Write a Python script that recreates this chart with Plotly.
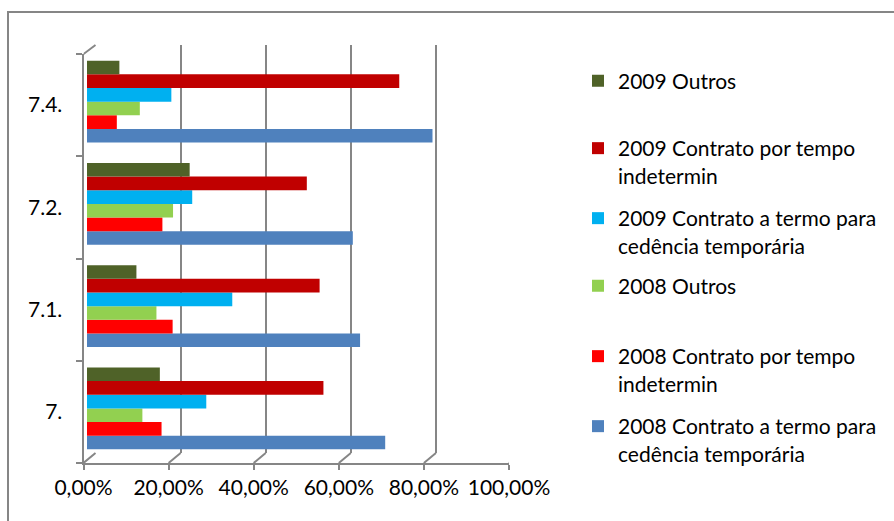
import plotly.graph_objects as go

# Categories (bottom to top) and series values (shares, 0-1)
categories = ["7.", "7.1.", "7.2.", "7.4."]

series_names = [
    "2008 Contrato a termo para<br>cedência temporária",
    "2008 Contrato por tempo<br>indetermin",
    "2008 Outros",
    "2009 Contrato a termo para<br>cedência temporária",
    "2009 Contrato por tempo<br>indetermin",
    "2009 Outros",
]
series_colors = ["#4F81BD", "#FF0000", "#92D050", "#00B0F0", "#C00000", "#4F6228"]

v2008_termo = [0.700, 0.641, 0.624, 0.811]
v2008_indet = [0.175, 0.201, 0.177, 0.070]
v2008_outros = [0.130, 0.163, 0.202, 0.124]
v2009_termo = [0.280, 0.341, 0.247, 0.198]
v2009_indet = [0.555, 0.546, 0.516, 0.733]
v2009_outros = [0.171, 0.116, 0.241, 0.076]
series_values = [v2008_termo, v2008_indet, v2008_outros, v2009_termo, v2009_indet, v2009_outros]

x_ticks = [0, 0.2, 0.4, 0.6, 0.8, 1.0]

# legend vertical centres (pixels from the top)
legend_centres = [440, 370, 286, 232, 162, 81]

W, H = 894, 521
FONT = "Lato, 'Open Sans', sans-serif"
FS = 21
GRAY = "#868686"


def xdom(a, b):
    return [a / W, b / W]


def ydom(top, bottom):
    return [1 - bottom / H, 1 - top / H]


fig = go.Figure()

# back wall (gridlines) -> x / y
fig.add_trace(go.Scatter(x=[0] * len(categories), y=categories, mode="markers",
                         marker=dict(size=1, opacity=0), hoverinfo="skip",
                         showlegend=False, xaxis="x", yaxis="y"))
# front frame (axis lines, ticks, labels) -> x2 / y2
fig.add_trace(go.Scatter(x=[0] * len(categories), y=categories, mode="markers",
                         marker=dict(size=1, opacity=0), hoverinfo="skip",
                         showlegend=False, xaxis="x2", yaxis="y2"))

# bars -> x3 / y3
for i, (name, color, vals) in enumerate(zip(series_names, series_colors, series_values)):
    lg = "legend" if i == 0 else f"legend{i + 1}"
    fig.add_trace(go.Bar(
        y=categories, x=vals, orientation="h", name=name,
        marker=dict(color=color, line=dict(width=0)),
        xaxis="x3", yaxis="y3", legend=lg,
    ))

cat_axis = dict(type="category", categoryorder="array", categoryarray=categories,
                range=[-0.5, len(categories) - 0.5])

layout = dict(
    width=W, height=H,
    margin=dict(l=0, r=0, t=0, b=0, autoexpand=False),
    paper_bgcolor="white", plot_bgcolor="rgba(0,0,0,0)",
    font=dict(family=FONT, size=FS, color="#000000"),
    separators=",.",
    barmode="group", bargap=0.2, bargroupgap=0,
    # back wall
    xaxis=dict(domain=xdom(95.5, 521.5), range=[0, 1], tickvals=x_ticks,
               showgrid=True, gridcolor=GRAY, gridwidth=2, zeroline=False,
               showline=False, showticklabels=False, ticks="", anchor="y"),
    yaxis=dict(domain=ydom(45, 453), showgrid=False, zeroline=False, showline=False,
               showticklabels=False, ticks="", anchor="x", **cat_axis),
    # front frame
    xaxis2=dict(domain=xdom(83.5, 509), range=[0, 1], tickvals=x_ticks, tickformat=".2%",
                showgrid=False, zeroline=False, showline=True, linecolor=GRAY, linewidth=2,
                ticks="outside", ticklen=5, tickwidth=2, tickcolor=GRAY,
                anchor="y2"),
    yaxis2=dict(domain=ydom(54, 463), showgrid=False, zeroline=False, showline=True,
                linecolor=GRAY, linewidth=2, ticks="outside", ticklen=6, tickwidth=2,
                tickcolor=GRAY, tickson="boundaries", ticklabelstandoff=15,
                anchor="x2", **cat_axis),
    # bars
    xaxis3=dict(domain=xdom(87, 513), range=[0, 1], visible=False, anchor="y3"),
    yaxis3=dict(domain=ydom(50.5, 459.5), visible=False, anchor="x3", **cat_axis),
)

# one legend per series so each entry sits at its own height
for i, yc in enumerate(legend_centres):
    key = "legend" if i == 0 else f"legend{i + 1}"
    layout[key] = dict(xref="container", yref="container",
                       x=578 / W, xanchor="left", y=1 - yc / H, yanchor="middle",
                       bgcolor="rgba(0,0,0,0)", valign="top",
                       font=dict(family=FONT, size=FS, color="#000000"))

fig.update_layout(**layout)

shapes = []
# floor depth edges from each front tick to the back wall
for v in x_ticks:
    shapes.append(dict(type="line", xref="x2", yref="y2 domain",
                       xsizemode="pixel", xanchor=v, x0=0, x1=12,
                       ysizemode="pixel", yanchor=0, y0=0, y1=10,
                       line=dict(color=GRAY, width=2)))
# top edge of the side wall
shapes.append(dict(type="line", xref="x2", yref="y2 domain",
                   xsizemode="pixel", xanchor=0, x0=0, x1=12,
                   ysizemode="pixel", yanchor=1, y0=0, y1=9,
                   line=dict(color=GRAY, width=2)))
# chart frame
shapes.append(dict(type="rect", xref="paper", yref="paper",
                   x0=8 / W, x1=1.02, y0=-0.02, y1=1 - 12 / H,
                   line=dict(color=GRAY, width=2), fillcolor="rgba(0,0,0,0)"))
fig.update_layout(shapes=shapes)

fig.write_html("out.html")
